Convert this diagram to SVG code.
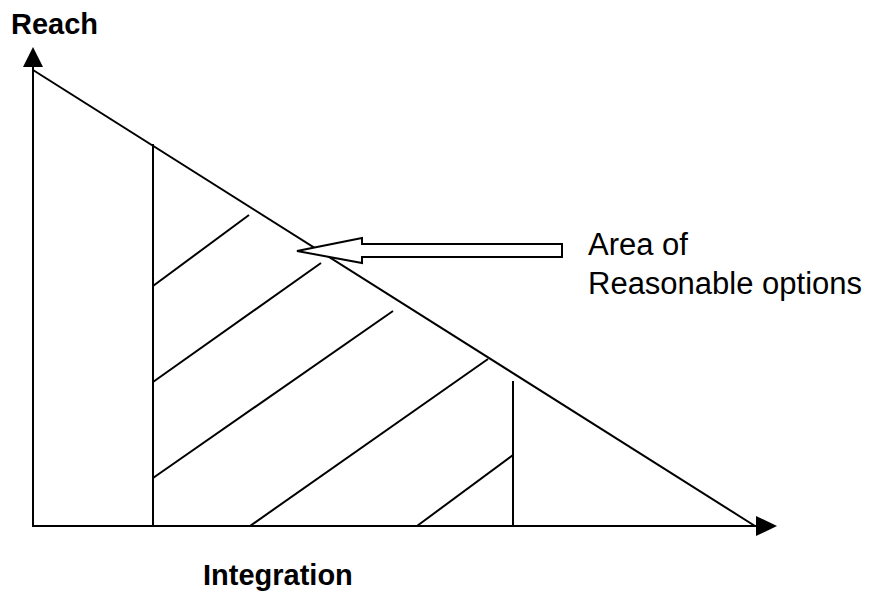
<svg xmlns="http://www.w3.org/2000/svg" width="872" height="591" viewBox="0 0 872 591">
<style>
.ln{stroke:#000;stroke-width:2;fill:none}
.ah{fill:#000;stroke:none}
.lbl{font-family:"Liberation Sans",Arial,sans-serif;fill:#000}
.b{font-weight:bold;font-size:29px}
.n{font-size:31px}
</style>
<rect width="872" height="591" fill="#fff"/>
<g id="axes">
<line class="ln" x1="33" y1="66" x2="33" y2="527"/>
<polygon class="ah" points="33,47 23,67 43,67"/>
<line class="ln" x1="32" y1="526" x2="757" y2="526"/>
<polygon class="ah" points="777,526 756,516 756,536"/>
</g>
<g id="region">
<line class="ln" x1="33" y1="70" x2="755" y2="526"/>
<line class="ln" x1="153" y1="144" x2="153" y2="526"/>
<line class="ln" x1="513" y1="381" x2="513" y2="526"/>
<line class="ln" x1="153" y1="286" x2="249" y2="215"/>
<line class="ln" x1="153" y1="382" x2="321" y2="263"/>
<line class="ln" x1="153" y1="478" x2="393" y2="311"/>
<line class="ln" x1="250" y1="526" x2="488" y2="359"/>
<line class="ln" x1="417" y1="526" x2="513" y2="455"/>
</g>
<g id="pointer">
<polygon points="297,251 362,238 362,244 562,244 562,257 362,257 362,263" fill="#fff" stroke="#000" stroke-width="2" stroke-linejoin="miter"/>
</g>
<g id="labels">
<text class="lbl b" x="11" y="34">Reach</text>
<text class="lbl b" x="203" y="585">Integration</text>
<text class="lbl n" x="588" y="255">Area of</text>
<text class="lbl n" x="588" y="294">Reasonable options</text>
</g>
</svg>
